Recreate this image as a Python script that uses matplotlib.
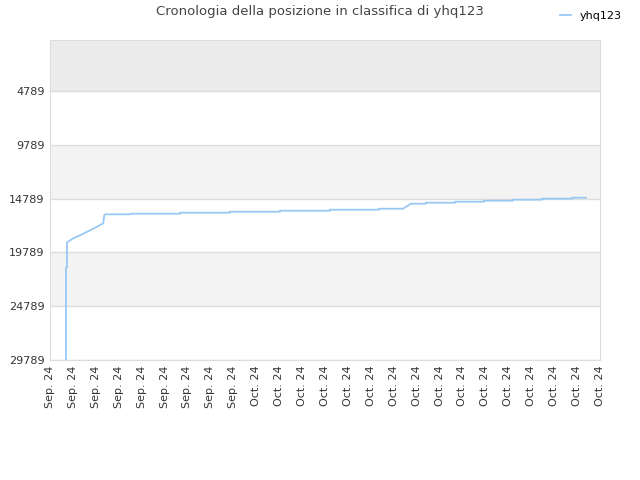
import matplotlib
matplotlib.use('Agg')
import matplotlib.pyplot as plt
import numpy as np

title = 'Cronologia della posizione in classifica di yhq123'
series_name = 'yhq123'

# x in tick-index units (0 = first tick, 24 = last tick), rank values
x_vals = [0.698, 0.698, 0.742, 0.742, 1.017, 1.309, 1.601, 1.889, 2.108, 2.326, 2.369, 2.413,
          3.491, 3.491, 5.673, 5.673, 7.854, 7.854, 10.036, 10.036, 12.218, 12.218,
          14.356, 14.356, 15.404, 15.753, 16.407, 16.407, 17.673, 17.673, 18.938, 18.938,
          20.204, 20.204, 21.469, 21.469, 22.778, 22.778, 23.389]
ranks = [29789, 21174, 21174, 18851, 18479, 18200, 17893, 17587, 17336, 17085, 16313, 16249,
         16249, 16193, 16193, 16100, 16100, 16007, 16007, 15914, 15914, 15821,
         15821, 15728, 15728, 15263, 15263, 15170, 15170, 15077, 15077, 14984,
         14984, 14891, 14891, 14798, 14798, 14705, 14705]

y_ticks = [4789, 9789, 14789, 19789, 24789, 29789]
x_labels = ['Sep. 24'] * 9 + ['Oct. 24'] * 16

fig = plt.figure(figsize=(6.4, 4.8), dpi=100)
ax = fig.add_axes([50 / 640, 1 - 360 / 480, 550 / 640, 320 / 480])

y_top = 49
ax.set_xlim(0, len(x_labels) - 1)
ax.set_ylim(29789, y_top)

# alternating bands
ax.axhspan(y_top, 4789, color='#ececec', zorder=0, lw=0)
ax.axhspan(9789, 14789, color='#f3f3f3', zorder=0, lw=0)
ax.axhspan(19789, 24789, color='#f3f3f3', zorder=0, lw=0)
for t in y_ticks:
    ax.axhline(t, color='#dddddd', lw=1, zorder=1)

ax.plot(x_vals, ranks, color='#99c8f5', lw=1.3, zorder=3, label=series_name)

ax.set_yticks(y_ticks)
ax.set_yticklabels([str(t) for t in y_ticks], fontsize=8, color='#333333')
ax.set_xticks(np.arange(len(x_labels)))
ax.set_xticklabels(x_labels, rotation=90, fontsize=8, color='#333333')
ax.tick_params(length=0, pad=4)
for s in ax.spines.values():
    s.set_color('#dddddd')

fig.text(0.5, 1 - 12 / 480, title, ha='center', va='center', fontsize=9.5, color='#444444')
leg = fig.legend(loc='upper right', bbox_to_anchor=(0.9875, 0.998), frameon=False, fontsize=8,
                 handlelength=1.0)

fig.savefig('out.png', dpi=100)
